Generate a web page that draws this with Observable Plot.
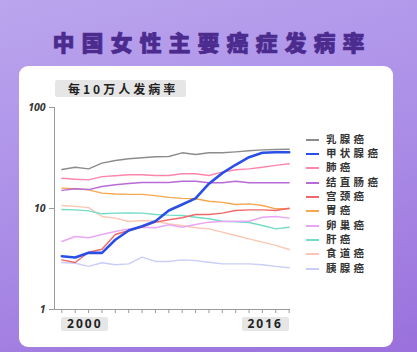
<!DOCTYPE html>
<html><head><meta charset="utf-8">
<script src="https://cdn.jsdelivr.net/npm/d3@7"></script>
<script src="https://cdn.jsdelivr.net/npm/@observablehq/plot@0.6"></script>
<style>
body{margin:0;}
#wrap{position:relative;width:417px;height:352px;overflow:hidden;background:linear-gradient(165deg,#bba5ee 0%,#a98be6 55%,#9a70dc 100%);font-family:"Noto Sans CJK SC","Noto Sans",sans-serif;}
#title{position:absolute;left:0;top:27px;width:417px;text-align:center;font-size:22px;font-weight:900;color:#4b2b8e;letter-spacing:7px;padding-left:7px;box-sizing:border-box;line-height:28px;-webkit-text-stroke:0.7px #4b2b8e;}
#card{position:absolute;left:19px;top:66px;width:374px;height:281px;background:#fff;border-radius:9px;}
#sub{position:absolute;left:55px;top:80px;width:131px;height:17px;background:#e6e6e6;border-radius:2px;font-size:12px;font-weight:700;color:#222;letter-spacing:3px;line-height:17px;padding-left:13px;box-sizing:border-box;}
#plot{position:absolute;left:0;top:0;}
#plot svg g[aria-label="y-axis tick label"] text{font-weight:700;font-style:italic;font-size:10.5px;fill:#333;}
.xl{position:absolute;top:317px;height:14px;width:47px;background:#e6e6e6;border-radius:2px;font-size:12px;font-weight:700;color:#222;letter-spacing:2px;line-height:14px;text-align:center;font-family:"Noto Sans","DejaVu Sans",sans-serif;}
.lg{position:absolute;left:306px;height:14px;line-height:14px;font-size:10.5px;font-weight:700;color:#333;letter-spacing:3.3px;white-space:nowrap;}
.lg span{display:inline-block;width:13px;height:0;border-top:2px solid;vertical-align:middle;margin-right:7px;}
</style></head>
<body>
<div id="wrap">
  <div id="title">中国女性主要癌症发病率</div>
  <div id="card"></div>
  <div id="sub">每10万人发病率</div>
  <div id="plot"></div>
</div>
<script>
const years = [2000,2001,2002,2003,2004,2005,2006,2007,2008,2009,2010,2011,2012,2013,2014,2015,2016,2017];
const names = ["乳腺癌","甲状腺癌","肺癌","结直肠癌","宫颈癌","胃癌","卵巢癌","肝癌","食道癌","胰腺癌"];
const colors = ["#8c8c8c","#2a4fe6","#ff86aa","#b86bd6","#f26868","#f7a650","#e9a6f5","#72dcc7","#fcc6b3","#c9cdf7"];
const breast = [24.3,25.6,24.7,28.1,29.9,31.1,31.8,32.5,32.7,35.6,34.3,35.6,35.6,36.4,37.3,38.1,38.4,38.6];
const thyroid = [3.37,3.27,3.64,3.64,4.90,6.05,6.68,7.48,9.55,10.96,12.6,17.6,22.4,27.1,32.2,35.6,36.1,36.1];
const lung = [19.9,19.5,19.2,20.7,21.1,21.6,21.6,21.2,21.2,22.1,22.1,21.2,22.9,24.2,24.7,25.6,26.7,27.7];
const colorectal = [15.1,15.7,15.4,16.5,17.2,17.7,18.1,18.1,18.1,18.6,18.6,18.0,18.0,18.6,18.0,18.0,18.0,18.0];
const cervical = [3.10,2.92,3.69,3.95,5.53,6.05,6.53,7.32,7.73,8.09,8.72,8.72,8.99,9.55,9.70,9.70,9.55,10.07];
const stomach = [15.9,15.7,15.3,14.2,13.9,13.8,13.8,13.4,12.9,12.6,12.5,11.8,11.5,10.96,11.1,10.7,9.93,9.93];
const ovarian = [4.71,5.28,5.13,5.53,5.92,6.29,6.53,6.44,6.90,6.53,6.95,7.32,7.43,7.48,7.48,8.20,8.33,8.02];
const liver = [9.77,9.70,9.48,8.86,8.99,9.06,8.99,8.72,8.59,8.53,8.20,7.91,7.48,7.38,7.27,6.79,6.29,6.53];
const esophageal = [10.7,10.5,10.2,8.33,8.02,7.43,7.61,7.48,7.05,6.79,6.44,6.29,5.84,5.41,5.01,4.64,4.31,3.93];
const pancreatic = [2.92,2.87,2.67,2.90,2.77,2.83,3.30,2.99,2.99,3.10,3.05,2.94,2.83,2.83,2.83,2.77,2.67,2.59];
const yTicks = [1,10,100];
const xTickLabels = [{year:2000,label:"2000",align:"start"},{year:2017,label:"2016",align:"end"}];
const xMin = 1999.45, xMax = 2017.1;

const seriesValues = [breast,thyroid,lung,colorectal,cervical,stomach,ovarian,liver,esophageal,pancreatic];
const data = [];
names.forEach((n,i)=>seriesValues[i].forEach((v,j)=>data.push({name:n,year:years[j],value:v})));
const order = ["胰腺癌","食道癌","肝癌","卵巢癌","胃癌","宫颈癌","结直肠癌","肺癌","乳腺癌"];
const thin = order.flatMap(n=>data.filter(d=>d.name===n));

const chart = Plot.plot({
  width:417, height:352,
  marginLeft:54, marginRight:127, marginTop:107, marginBottom:43,
  style:{background:"transparent",overflow:"visible",fontFamily:"'Noto Sans','DejaVu Sans',sans-serif"},
  x:{domain:[xMin,xMax]},
  y:{type:"log",domain:[1,100]},
  color:{domain:names,range:colors},
  marks:[
    Plot.ruleX([xMin],{y1:1,y2:100,stroke:"#9a9a9a",strokeWidth:1}),
    Plot.ruleY([1],{stroke:"#9a9a9a",strokeWidth:1}),
    Plot.axisY({ticks:yTicks,tickSize:5,tickPadding:4,tickFormat:d=>String(d),stroke:"#9a9a9a",label:null}),
    Plot.axisX({ticks:years,tickSize:4,tickFormat:()=>"",stroke:"#9a9a9a",label:null}),
    Plot.line(thin,{x:"year",y:"value",z:"name",stroke:"name",strokeWidth:1.4}),
    Plot.line(data.filter(d=>d.name==="甲状腺癌"),{x:"year",y:"value",stroke:"name",strokeWidth:2.6})
  ]
});
document.getElementById("plot").appendChild(chart);

const wrap = document.getElementById("wrap");
const xs = chart.scale("x");
xTickLabels.forEach(t=>{
  const px = xs.apply(t.year);
  const d = document.createElement("div");
  d.className="xl";
  d.textContent=t.label;
  d.style.left = (t.align==="start" ? px : px-47) + "px";
  wrap.appendChild(d);
});
names.forEach((n,i)=>{
  const d = document.createElement("div");
  d.className="lg";
  d.style.top = (131.5 + i*14.35) + "px";
  d.innerHTML = `<span style="border-color:${colors[i]}"></span>${n}`;
  wrap.appendChild(d);
});
</script>
</body></html>
